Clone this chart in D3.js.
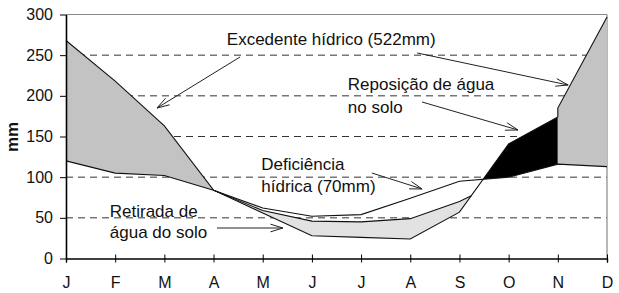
<!DOCTYPE html>
<html>
<head>
<meta charset="utf-8">
<script src="https://cdn.jsdelivr.net/npm/d3@7"></script>
<style>
  body { margin: 0; background: #fff; }
  svg { display: block; font-family: "Liberation Sans", Arial, sans-serif; }
</style>
</head>
<body>
<svg id="chart" width="619" height="293"></svg>
<script>
// months (labels repeat, so x is the month index)
const meses = ["J", "F", "M", "A", "M", "J", "J", "A", "S", "O", "N", "D"];
const yTicks = [0, 50, 100, 150, 200, 250, 300];

// series, mm
const precipitacao = [268, 218, 163, 84, 56, 28, 26, 24, 57, 141, 174, 297];
const etp = [120, 105, 102, 84, 62, 52, 54, 74, 95, 100, 116, 113];   // evapotranspiracao potencial
const etr = [120, 105, 102, 84, 59, 46, 45, 49, 70, 100, 116, 113];   // evapotranspiracao real
const excedenteNovTopo = 185;   // top of the Nov-Dec surplus block

const margin = { top: 14.5, right: 12, bottom: 34.5, left: 66 };
const W = 619, H = 293;
const svg = d3.select("#chart");

const x = d3.scaleLinear().domain([0, 11]).range([margin.left, W - margin.right]);
const y = d3.scaleLinear().domain([0, 300]).range([H - margin.bottom, margin.top]);

// where series a crosses series b between index i and i+1
function crossing(a, b, i) {
    const t = (b[i] - a[i]) / ((a[i + 1] - a[i]) - (b[i + 1] - b[i]));
    return { m: i + t, v: a[i] + t * (a[i + 1] - a[i]) };
}

// grid
svg.append("g").selectAll("line")
    .data(yTicks.filter(d => d > 0 && d < 300))
    .enter().append("line")
    .attr("x1", x(0)).attr("x2", x(11))
    .attr("y1", d => y(d)).attr("y2", d => y(d))
    .attr("stroke", "#333").attr("stroke-width", 1)
    .attr("stroke-dasharray", "7,5");

// frame top + right
svg.append("line").attr("x1", x(0)).attr("x2", x(11)).attr("y1", y(300)).attr("y2", y(300))
    .attr("stroke", "#888").attr("stroke-width", 1.2);
svg.append("line").attr("x1", x(11)).attr("x2", x(11)).attr("y1", y(300)).attr("y2", y(0))
    .attr("stroke", "#888").attr("stroke-width", 1.2);

const area = d3.area().x(d => x(d.m)).y0(d => y(d.lo)).y1(d => y(d.hi));
const line = d3.line().x(d => x(d.m)).y(d => y(d.v));

// excedente Jan-Apr
const exc1 = d3.range(0, 4).map(i => ({ m: i, lo: etp[i], hi: precipitacao[i] }));
svg.append("path").attr("d", area(exc1)).attr("fill", "#c3c3c3");

// retirada de agua do solo (between ETR and P)
const cRet = crossing(precipitacao, etr, 8);
const ret = d3.range(3, 9).map(i => ({ m: i, lo: precipitacao[i], hi: etr[i] }))
    .concat([{ m: cRet.m, lo: cRet.v, hi: cRet.v }]);
svg.append("path").attr("d", area(ret)).attr("fill", "#e2e2e2");

// reposicao (between P and ETP, black)
const cRep = crossing(precipitacao, etp, 8);
const rep = [{ m: cRep.m, lo: cRep.v, hi: cRep.v }]
    .concat(d3.range(9, 11).map(i => ({ m: i, lo: etp[i], hi: precipitacao[i] })));
svg.append("path").attr("d", area(rep)).attr("fill", "#000");

// excedente Nov-Dec
const exc2 = [{ m: 10, lo: etp[10], hi: excedenteNovTopo }, { m: 11, lo: etp[11], hi: precipitacao[11] }];
svg.append("path").attr("d", area(exc2)).attr("fill", "#c3c3c3");

// lines
const pLine = d3.range(0, 11).map(i => ({ m: i, v: precipitacao[i] }))
    .concat([{ m: 10, v: excedenteNovTopo }, { m: 11, v: precipitacao[11] }]);
svg.append("path").attr("d", line(pLine)).attr("fill", "none").attr("stroke", "#111").attr("stroke-width", 1.1);
svg.append("path").attr("d", line(etp.map((v, i) => ({ m: i, v }))))
    .attr("fill", "none").attr("stroke", "#111").attr("stroke-width", 1.1);
const etrLine = d3.range(3, 9).map(i => ({ m: i, v: etr[i] })).concat([cRet]);
svg.append("path").attr("d", line(etrLine)).attr("fill", "none").attr("stroke", "#111").attr("stroke-width", 1.1);

// axes
const xAxis = svg.append("g")
    .attr("transform", `translate(0,${y(0)})`)
    .call(d3.axisBottom(x).tickValues(d3.range(12)).tickFormat(i => meses[i]).tickSize(4).tickPadding(14));
xAxis.selectAll(".tick line").attr("y1", -4).attr("y2", 4);
xAxis.select(".domain").attr("stroke-width", 1.4);

const yAxis = svg.append("g")
    .attr("transform", `translate(${x(0)},0)`)
    .call(d3.axisLeft(y).tickValues(yTicks).tickSize(6).tickPadding(7).tickSizeOuter(0));
yAxis.select(".domain").attr("stroke-width", 1.6);

svg.selectAll(".tick text").attr("font-size", 16).attr("fill", "#111")
    .attr("font-family", "'Liberation Sans', Arial, sans-serif");

svg.append("text")
    .attr("transform", `translate(18,137) rotate(-90)`)
    .attr("text-anchor", "middle")
    .attr("font-size", 17).attr("font-weight", "bold").attr("fill", "#111")
    .text("mm");

// annotations (placed in month / mm units)
const notes = [
    { m: 3.27, v: 262.5, t: "Excedente hídrico (522mm)" },
    { m: 5.73, v: 207.2, t: "Reposição de água" },
    { m: 5.73, v: 178.9, t: "no solo" },
    { m: 3.97, v: 108.8, t: "Deficiência" },
    { m: 3.97, v: 81.2, t: "hídrica (70mm)" },
    { m: 0.89, v: 51.4, t: "Retirada de" },
    { m: 0.89, v: 24.6, t: "água do solo" }
];
svg.append("g").selectAll("text").data(notes).enter().append("text")
    .attr("x", d => x(d.m)).attr("y", d => y(d.v))
    .attr("font-size", 17).attr("fill", "#111")
    .text(d => d.t);

const arrows = [
    { m0: 3.54, v0: 247.8, m1: 1.85, v1: 185 },
    { m0: 7.14, v0: 252.7, m1: 10.21, v1: 213.3 },
    { m0: 7.24, v0: 192.4, m1: 9.19, v1: 158 },
    { m0: 6.22, v0: 105.1, m1: 7.24, v1: 85.5 },
    { m0: 3.07, v0: 37.5, m1: 4.41, v1: 37.5 }
];
function arrowPath(d) {
    const x0 = x(d.m0), y0 = y(d.v0), x1 = x(d.m1), y1 = y(d.v1);
    const a = Math.atan2(y1 - y0, x1 - x0);
    const L = 13, s = 0.3;
    const p1 = [x1 - L * Math.cos(a - s), y1 - L * Math.sin(a - s)];
    const p2 = [x1 - L * Math.cos(a + s), y1 - L * Math.sin(a + s)];
    return `M${x0},${y0}L${x1},${y1}M${p1[0]},${p1[1]}L${x1},${y1}L${p2[0]},${p2[1]}`;
}
svg.append("g").selectAll("path").data(arrows).enter().append("path")
    .attr("d", arrowPath)
    .attr("fill", "none").attr("stroke", "#222").attr("stroke-width", 1);
</script>
</body>
</html>
